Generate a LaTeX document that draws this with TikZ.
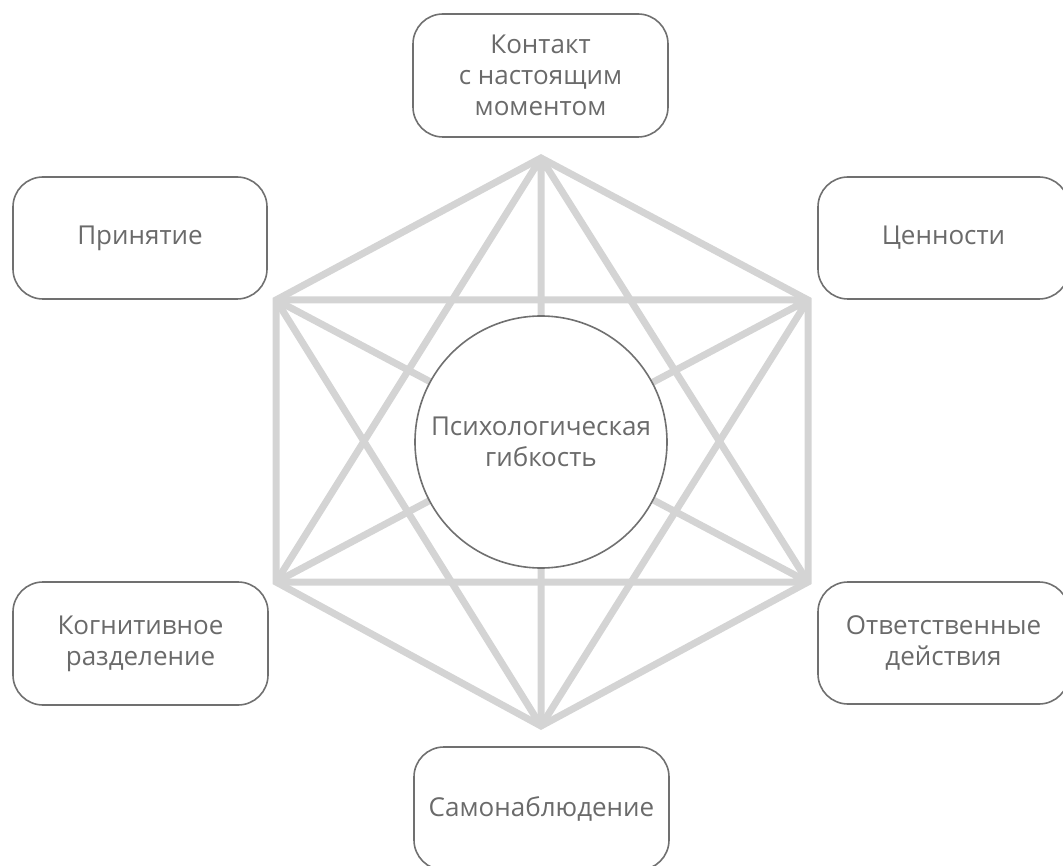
\documentclass[tikz,border=0pt]{standalone}
\usepackage{fontspec}
\setmainfont{Open Sans}
\definecolor{linegray}{HTML}{D4D4D4}
\definecolor{boxgray}{HTML}{707070}
\definecolor{textgray}{HTML}{6A6A6A}
\begin{document}
\begin{tikzpicture}[x=1pt,y=-1pt,
  bx/.style={draw=boxgray,line width=1.6pt,rounded corners=30pt,rectangle,
    text=textgray,align=center,inner sep=0pt,
    font=\fontsize{26}{31}\selectfont},
  web/.style={draw=linegray,line width=7pt},
  hub/.style={circle,draw=boxgray,line width=1.6pt,fill=white,minimum size=252pt,
    text=textgray,align=center,inner sep=0pt,font=\fontsize{26}{31}\selectfont}]
\useasboundingbox (0,0) rectangle (1063,866);
\coordinate (T) at (541,158);
\coordinate (UR) at (808,300);
\coordinate (LR) at (808,582);
\coordinate (B) at (541,726);
\coordinate (LL) at (276,582);
\coordinate (UL) at (276,300);
\draw[web,line join=miter] (T) -- (UR) -- (LR) -- (B) -- (LL) -- (UL) -- cycle;
\draw[web] (T) -- (LR) (T) -- (B) (T) -- (LL);
\draw[web] (UR) -- (B) (UR) -- (LL) (UR) -- (UL);
\draw[web] (LR) -- (LL) (LR) -- (UL);
\draw[web] (B) -- (UL);
\node[hub] (c) at (541,442) {Психологическая\\гибкость};
\node[bx,minimum width=255pt,minimum height=123pt] (top) at (540.5,75.5) {Контакт\\с настоящим\\моментом};
\node[bx,minimum width=254pt,minimum height=122pt] (ul) at (140,238) {Принятие};
\node[bx,minimum width=251pt,minimum height=122pt] (ur) at (943.5,238) {Ценности};
\node[bx,minimum width=255pt,minimum height=123pt] (ll) at (140.5,643.5) {Когнитивное\\разделение};
\node[bx,minimum width=251pt,minimum height=122pt] (lr) at (943.5,643) {Ответственные\\действия};
\node[bx,minimum width=255pt,minimum height=123pt] (bot) at (541.5,808.5) {Самонаблюдение};
\end{tikzpicture}
\end{document}
